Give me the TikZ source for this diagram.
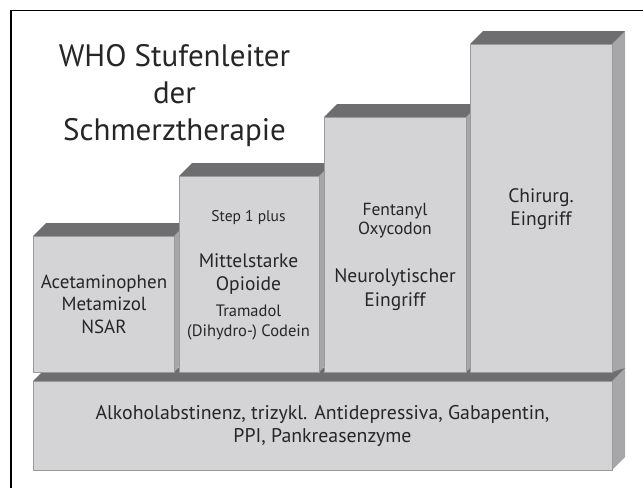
\documentclass[tikz,border=0pt]{standalone}
\usepackage{fontspec}
\setmainfont{PT Sans}
\usepackage{xcolor}
\usepackage{tikz}
\definecolor{ink}{HTML}{262626}
\definecolor{front}{HTML}{D4D4D6}
\definecolor{edge}{HTML}{9A9A9C}
\definecolor{topc}{HTML}{6E6E70}
\definecolor{sidec}{HTML}{A7A7A9}
\tikzset{
  frontface/.style={fill=front, draw=edge, line width=0.8pt},
  topface/.style={fill=topc},
  sideface/.style={fill=sidec},
  frame/.style={draw=black, line width=1.4pt},
  lab/.style={text=ink, align=center, inner sep=0pt},
}

\begin{document}
\begin{tikzpicture}[x=1pt,y=-1pt]
  \useasboundingbox (0,0) rectangle (643,488);
  \draw[frame] (11,488) -- (11,10.5) -- (643,10.5);

  % base step
  \fill[sideface] (612,381) -- (625,368) -- (625,457) -- (612,470) -- cycle;
  \fill[topface] (33,381) -- (46,368) -- (625,368) -- (612,381) -- cycle;
  \draw[frontface] (33,381) rectangle (612,470);

  % step 1
  \fill[sideface] (174,236) -- (187,223) -- (187,359) -- (174,372) -- cycle;
  \fill[topface] (33,236) -- (46,223) -- (187,223) -- (174,236) -- cycle;
  \draw[frontface] (33,236) rectangle (174,372);

  % step 2
  \fill[sideface] (319,176) -- (332,163) -- (332,359) -- (319,372) -- cycle;
  \fill[topface] (179,176) -- (192,163) -- (332,163) -- (319,176) -- cycle;
  \draw[frontface] (179,176) rectangle (319,372);

  % step 3
  \fill[sideface] (466,117) -- (479,104) -- (479,359) -- (466,372) -- cycle;
  \fill[topface] (324,117) -- (337,104) -- (479,104) -- (466,117) -- cycle;
  \draw[frontface] (324,117) rectangle (466,372);

  % step 4
  \fill[sideface] (612,44) -- (625,31) -- (625,368) -- (612,372) -- cycle;
  \fill[topface] (470,44) -- (483,31) -- (625,31) -- (612,44) -- cycle;
  \draw[frontface] (470,44) rectangle (612,372);

  \node[lab, font=\fontsize{31}{37}\selectfont] (titel) at (174.5,96)
    {WHO Stufenleiter\\der\\Schmerztherapie};

  \node[lab, font=\fontsize{19}{22.5}\selectfont] (stufe1) at (104,304)
    {Acetaminophen\\Metamizol\\NSAR};

  \node[lab, font=\fontsize{15.5}{18}\selectfont] (plus) at (248.5,218) {Step 1 plus};
  \node[lab, font=\fontsize{19.5}{23.4}\selectfont] (mittel) at (248.5,274)
    {Mittelstarke\\Opioide};
  \node[lab, font=\fontsize{16.5}{20}\selectfont] (tramadol) at (248.5,323)
    {Tramadol\\(Dihydro-) Codein};

  \node[lab, font=\fontsize{17.5}{19}\selectfont] (stark) at (395,221)
    {Fentanyl\\Oxycodon};
  \node[lab, font=\fontsize{19.5}{24}\selectfont] (neuro) at (395,290)
    {Neurolytischer\\Eingriff};

  \node[lab, font=\fontsize{19.5}{23.4}\selectfont] (chir) at (541,209)
    {Chirurg.\\Eingriff};

  \node[lab, font=\fontsize{19.8}{22.7}\selectfont] (basis) at (322.5,426)
    {Alkoholabstinenz, trizykl. Antidepressiva, Gabapentin,\\PPI, Pankreasenzyme};
\end{tikzpicture}
\end{document}
